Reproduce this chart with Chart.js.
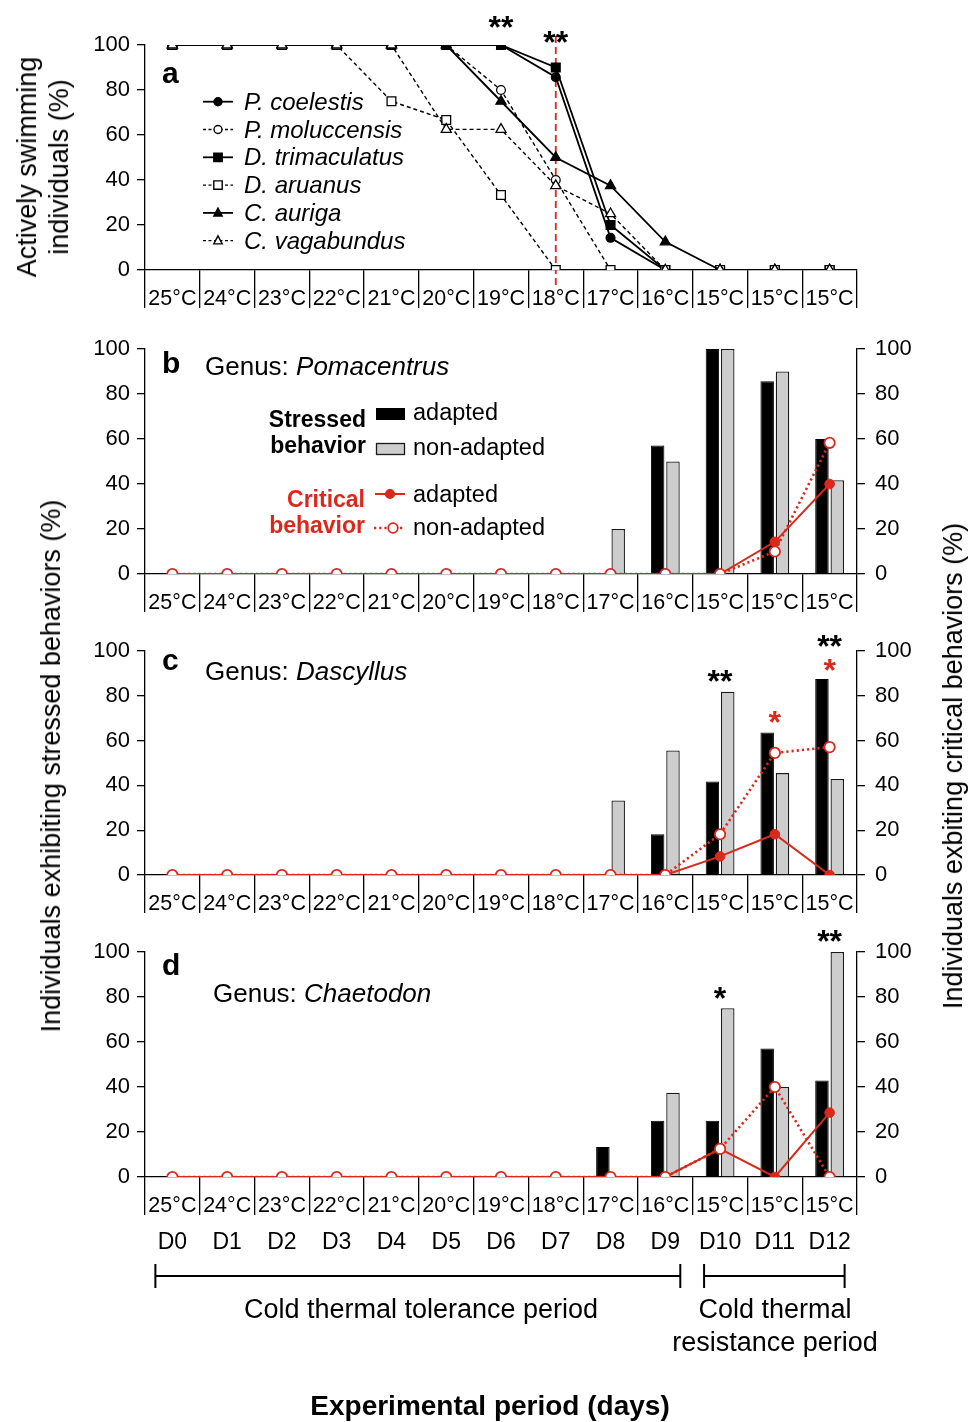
<!DOCTYPE html>
<html>
<head>
<meta charset="utf-8">
<script src="https://cdn.jsdelivr.net/npm/chart.js@4.4.1/dist/chart.umd.min.js"></script>
<style>
  body { margin: 0; background: #fff; }
  #page { position: relative; width: 979px; height: 1422px; overflow: hidden; background: #fff; }
  canvas { position: absolute; left: 0; }
  .vtitle {
    position: absolute; white-space: nowrap; text-align: center; color: #000;
    font-family: "Liberation Sans", Arial, sans-serif; font-size: 27px; line-height: 32px;
    transform: translate(-50%, -50%) rotate(-90deg);
  }
</style>
</head>
<body>
<div id="page">
  <canvas id="chartA" width="979" height="320" style="top:0px"></canvas>
  <canvas id="chartB" width="979" height="304" style="top:320px"></canvas>
  <canvas id="chartC" width="979" height="301" style="top:624px"></canvas>
  <canvas id="chartD" width="979" height="497" style="top:925px"></canvas>
  <div class="vtitle" style="left:43px; top:167px">Actively swimming<br>individuals (%)</div>
  <div class="vtitle" style="left:51px; top:766px">Individuals exhibiting stressed behaviors (%)</div>
  <div class="vtitle" style="left:953px; top:766px">Individuals exbiting critical behaviors (%)</div>
</div>
<script>
// ---- data ----
const temps = ['25°C', '24°C', '23°C', '22°C', '21°C', '20°C', '19°C', '18°C', '17°C', '16°C', '15°C', '15°C', '15°C'];
const days = ['D0', 'D1', 'D2', 'D3', 'D4', 'D5', 'D6', 'D7', 'D8', 'D9', 'D10', 'D11', 'D12'];

// panel a: actively swimming individuals (%)
const pCoelestis    = [100, 100, 100, 100, 100, 100, 100, 85.7, 14.3, 0, 0, 0, 0];
const pMoluccensis  = [100, 100, 100, 100, 100, 100, 80, 40, 0, 0, 0, 0, 0];
const dTrimaculatus = [100, 100, 100, 100, 100, 100, 100, 90, 20, 0, 0, 0, 0];
const dAruanus      = [100, 100, 100, 100, 75, 66.7, 33.3, 0, 0, 0, 0, 0, 0];
const cAuriga       = [100, 100, 100, 100, 100, 100, 75, 50, 37.5, 12.5, 0, 0, 0];
const cVagabundus   = [100, 100, 100, 100, 100, 62.5, 62.5, 37.5, 25, 0, 0, 0, 0];

// panel b: Pomacentrus
const pomaStressAdapted = [0, 0, 0, 0, 0, 0, 0, 0, 0, 57.1, 100, 85.7, 60];
const pomaStressNon     = [0, 0, 0, 0, 0, 0, 0, 0, 20, 50, 100, 90, 41.7];
const pomaCritAdapted   = [0, 0, 0, 0, 0, 0, 0, 0, 0, 0, 0, 14.3, 40];
const pomaCritNon       = [0, 0, 0, 0, 0, 0, 0, 0, 0, 0, 0, 10, 58.3];

// panel c: Dascyllus
const dascStressAdapted = [0, 0, 0, 0, 0, 0, 0, 0, 0, 18.2, 41.7, 63.6, 87.5];
const dascStressNon     = [0, 0, 0, 0, 0, 0, 0, 0, 33.3, 55.6, 81.8, 45.5, 42.9];
const dascCritAdapted   = [0, 0, 0, 0, 0, 0, 0, 0, 0, 0, 8.3, 18.2, 0];
const dascCritNon       = [0, 0, 0, 0, 0, 0, 0, 0, 0, 0, 18.2, 54.5, 57.1];

// panel d: Chaetodon
const chaeStressAdapted = [0, 0, 0, 0, 0, 0, 0, 0, 13.3, 25, 25, 57.1, 42.9];
const chaeStressNon     = [0, 0, 0, 0, 0, 0, 0, 0, 0, 37.5, 75, 40, 100];
const chaeCritAdapted   = [0, 0, 0, 0, 0, 0, 0, 0, 0, 0, 12.5, 0, 28.6];
const chaeCritNon       = [0, 0, 0, 0, 0, 0, 0, 0, 0, 0, 12.5, 40, 0];

// significance marks: [category index, y value where the mark sits, text, colour]
const starsA = [[6, 111, '**', '#000'], [7, 104.5, '**', '#000']];
const starsC = [[10, 89.9, '**', '#000'], [11, 71.4, '*', '#d9291c'], [12, 105.4, '**', '#000'], [12, 94.6, '*', '#d9291c']];
const starsD = [[10, 82.7, '*', '#000'], [12, 108, '**', '#000']];

// ---- styling ----
const FONT = '"Liberation Sans", Arial, Helvetica, sans-serif';
const RED = '#d9291c';
const GREY = '#cdcdcd';
Chart.defaults.font.family = FONT;
Chart.defaults.color = '#000';
Chart.defaults.animation = false;

function yAxis(pos) {
  return {
    position: pos, min: 0, max: 100,
    ticks: { stepSize: 20, font: { size: 22 }, padding: pos === 'left' ? 7 : 10, color: '#000' },
    grid: { drawOnChartArea: false, tickLength: 8, color: '#000', lineWidth: 1.3 },
    border: { color: '#000', width: 1.3 },
    afterFit: s => { s.width = pos === 'left' ? 145 : 122; }
  };
}

function xAxis() {
  return {
    type: 'category', offset: true,
    ticks: { autoSkip: false, maxRotation: 0, minRotation: 0, font: { size: 21.5 }, padding: -22, color: '#000' },
    grid: { offset: true, drawOnChartArea: false, tickLength: 38, color: '#000', lineWidth: 1.3 },
    border: { color: '#000', width: 1.3 },
    afterFit: s => { s.height = 50; }
  };
}

function marker(ctx, style, x, y, r, filled, color) {
  ctx.save();
  ctx.beginPath();
  if (style === 'circle') ctx.arc(x, y, r, 0, Math.PI * 2);
  else if (style === 'rect') ctx.rect(x - r, y - r, 2 * r, 2 * r);
  else { ctx.moveTo(x, y - r * 1.15); ctx.lineTo(x + r, y + r * 0.75); ctx.lineTo(x - r, y + r * 0.75); ctx.closePath(); }
  ctx.fillStyle = filled ? color : '#fff';
  ctx.fill();
  ctx.lineWidth = 1.4;
  ctx.strokeStyle = color;
  ctx.stroke();
  ctx.restore();
}

function drawStars(chart, stars, scaleId) {
  const ctx = chart.ctx, xs = chart.scales.x, ys = chart.scales[scaleId];
  ctx.save();
  ctx.font = 'bold 32px ' + FONT;
  ctx.textAlign = 'center';
  ctx.textBaseline = 'alphabetic';
  stars.forEach(([i, v, t, c]) => {
    ctx.fillStyle = c;
    ctx.fillText(t, xs.getPixelForValue(i), ys.getPixelForValue(v) + 18);
  });
  ctx.restore();
}

function genusTitle(ctx, letter, lx, ly, genus, gx, gy) {
  ctx.save();
  ctx.fillStyle = '#000';
  ctx.textBaseline = 'alphabetic';
  ctx.textAlign = 'left';
  ctx.font = 'bold 30px ' + FONT;
  ctx.fillText(letter, lx, ly);
  ctx.font = '26px ' + FONT;
  ctx.fillText('Genus: ', gx, gy);
  const w = ctx.measureText('Genus: ').width;
  ctx.font = 'italic 26px ' + FONT;
  ctx.fillText(genus, gx + w, gy);
  ctx.restore();
}

// ---- panel a ----
const speciesSets = [
  { label: 'P. coelestis', data: pCoelestis, style: 'circle', filled: true },
  { label: 'P. moluccensis', data: pMoluccensis, style: 'circle', filled: false },
  { label: 'D. trimaculatus', data: dTrimaculatus, style: 'rect', filled: true },
  { label: 'D. aruanus', data: dAruanus, style: 'rect', filled: false },
  { label: 'C. auriga', data: cAuriga, style: 'triangle', filled: true },
  { label: 'C. vagabundus', data: cVagabundus, style: 'triangle', filled: false }
];

const decorA = {
  id: 'decorA',
  beforeDatasetsDraw(chart) {
    const ctx = chart.ctx, x = chart.scales.x.getPixelForValue(7), ys = chart.scales.y;
    ctx.save();
    ctx.strokeStyle = RED;
    ctx.lineWidth = 1.8;
    ctx.setLineDash([7, 4]);
    ctx.beginPath();
    ctx.moveTo(x, ys.getPixelForValue(104));
    ctx.lineTo(x, ys.getPixelForValue(-7));
    ctx.stroke();
    ctx.restore();
  },
  afterDraw(chart) {
    const ctx = chart.ctx;
    ctx.save();
    ctx.fillStyle = '#000';
    ctx.font = 'bold 30px ' + FONT;
    ctx.fillText('a', 162, 83);
    speciesSets.forEach((s, k) => {
      const cy = 101.7 + k * 27.8;
      ctx.strokeStyle = '#000';
      ctx.lineWidth = s.filled ? 1.8 : 1.3;
      ctx.setLineDash(s.filled ? [] : [3, 2.5]);
      ctx.beginPath(); ctx.moveTo(203, cy); ctx.lineTo(233, cy); ctx.stroke();
      ctx.setLineDash([]);
      marker(ctx, s.style, 218, cy, s.style === 'circle' ? 4 : 4.2, s.filled, '#000');
      ctx.fillStyle = '#000';
      ctx.font = 'italic 24px ' + FONT;
      ctx.textBaseline = 'alphabetic';
      ctx.fillText(s.label, 244, cy + 8);
    });
    ctx.restore();
    drawStars(chart, starsA, 'y');
  }
};

new Chart(document.getElementById('chartA'), {
  type: 'line',
  data: {
    labels: temps,
    datasets: speciesSets.map((s, i) => ({
      label: s.label,
      data: s.data,
      order: 5 - i,
      borderColor: '#000',
      borderWidth: s.filled ? 1.8 : 1.4,
      borderDash: s.filled ? [] : [4, 3],
      pointStyle: s.style,
      pointRadius: s.style === 'circle' ? 4.4 : (s.style === 'rect' ? 6.2 : 5.8),
      pointBorderWidth: 1.3,
      pointBorderColor: '#000',
      pointBackgroundColor: s.filled ? '#000' : '#fff',
      tension: 0
    }))
  },
  options: {
    responsive: false,
    layout: { padding: { top: 45, right: 122, bottom: 0, left: 0 } },
    plugins: { legend: { display: false }, tooltip: { enabled: false } },
    scales: { x: xAxis(), y: yAxis('left') }
  },
  plugins: [decorA]
});

// ---- panels b-d ----
function behaviorChart(id, padTop, padBottom, stressAd, stressNon, critAd, critNon, decor) {
  return new Chart(document.getElementById(id), {
    type: 'bar',
    data: {
      labels: temps,
      datasets: [
        { type: 'line', label: 'critical non-adapted', data: critNon, yAxisID: 'y2', order: 0,
          borderColor: RED, borderWidth: 2.6, borderDash: [2.2, 3], tension: 0,
          pointRadius: 5.2, pointBorderWidth: 1.8, pointBorderColor: RED, pointBackgroundColor: '#fff' },
        { type: 'line', label: 'critical adapted', data: critAd, yAxisID: 'y2', order: 1,
          borderColor: RED, borderWidth: 2, tension: 0,
          pointRadius: 4.8, pointBorderWidth: 1, pointBorderColor: RED, pointBackgroundColor: RED },
        { label: 'stressed adapted', data: stressAd, yAxisID: 'y', order: 2,
          backgroundColor: '#000', borderColor: '#000', borderWidth: 1,
          categoryPercentage: 0.56, barPercentage: 0.88 },
        { label: 'stressed non-adapted', data: stressNon, yAxisID: 'y', order: 3,
          backgroundColor: GREY, borderColor: '#1a1a1a', borderWidth: 1.3,
          categoryPercentage: 0.56, barPercentage: 0.88 }
      ]
    },
    options: {
      responsive: false,
      layout: { padding: { top: padTop, right: 0, bottom: padBottom, left: 0 } },
      plugins: { legend: { display: false }, tooltip: { enabled: false } },
      scales: { x: xAxis(), y: yAxis('left'), y2: yAxis('right') }
    },
    plugins: [decor]
  });
}

// legend of panel b (canvas top at 320 px on the page)
const decorB = {
  id: 'decorB',
  afterDraw(chart) {
    const ctx = chart.ctx, o = 320;
    genusTitle(ctx, 'b', 162, 373 - o, 'Pomacentrus', 205, 375 - o);
    ctx.save();
    ctx.textBaseline = 'alphabetic';
    ctx.font = 'bold 23px ' + FONT;
    ctx.textAlign = 'right';
    ctx.fillStyle = '#000';
    ctx.fillText('Stressed', 366, 427 - o);
    ctx.fillText('behavior', 366, 453 - o);
    ctx.fillStyle = RED;
    ctx.fillText('Critical', 365, 507 - o);
    ctx.fillText('behavior', 365, 533 - o);
    ctx.textAlign = 'left';
    ctx.font = '23.5px ' + FONT;
    ctx.fillStyle = '#000';
    ctx.fillText('adapted', 413, 420 - o);
    ctx.fillText('non-adapted', 413, 455 - o);
    ctx.fillText('adapted', 413, 502 - o);
    ctx.fillText('non-adapted', 413, 535 - o);
    // bar swatches
    ctx.fillStyle = '#000';
    ctx.fillRect(376, 408 - o, 29, 12);
    ctx.fillStyle = GREY;
    ctx.fillRect(376.5, 443.5 - o, 28, 11);
    ctx.strokeStyle = '#1a1a1a'; ctx.lineWidth = 1.3;
    ctx.strokeRect(376.5, 443.5 - o, 28, 11);
    // line swatches
    ctx.strokeStyle = RED; ctx.lineWidth = 2;
    ctx.beginPath(); ctx.moveTo(375, 494 - o); ctx.lineTo(405, 494 - o); ctx.stroke();
    marker(ctx, 'circle', 390, 494 - o, 4.4, true, RED);
    ctx.lineWidth = 2.6; ctx.setLineDash([2.2, 3]);
    ctx.beginPath(); ctx.moveTo(374, 528 - o); ctx.lineTo(404, 528 - o); ctx.stroke();
    ctx.setLineDash([]);
    ctx.lineWidth = 1.8;
    ctx.beginPath(); ctx.arc(393, 528 - o, 4.8, 0, Math.PI * 2);
    ctx.fillStyle = '#fff'; ctx.fill(); ctx.stroke();
    ctx.restore();
  }
};

const decorC = {
  id: 'decorC',
  afterDraw(chart) {
    const o = 624;
    genusTitle(chart.ctx, 'c', 162, 670 - o, 'Dascyllus', 205, 680 - o);
    drawStars(chart, starsC, 'y');
  }
};

const decorD = {
  id: 'decorD',
  afterDraw(chart) {
    const ctx = chart.ctx, o = 925, xs = chart.scales.x;
    genusTitle(ctx, 'd', 162, 975 - o, 'Chaetodon', 213, 1002 - o);
    drawStars(chart, starsD, 'y');
    ctx.save();
    ctx.fillStyle = '#000';
    ctx.textAlign = 'center';
    ctx.textBaseline = 'alphabetic';
    ctx.font = '23px ' + FONT;
    days.forEach((d, i) => ctx.fillText(d, xs.getPixelForValue(i), 1249 - o));
    // period brackets
    const bracket = (x1, x2) => {
      const y = 1276 - o;
      ctx.strokeStyle = '#000'; ctx.lineWidth = 2;
      ctx.beginPath();
      ctx.moveTo(x1, y); ctx.lineTo(x2, y);
      ctx.moveTo(x1, y - 12); ctx.lineTo(x1, y + 12);
      ctx.moveTo(x2, y - 12); ctx.lineTo(x2, y + 12);
      ctx.stroke();
    };
    bracket(xs.getPixelForValue(0) - 17, xs.getPixelForValue(9) + 15);
    bracket(xs.getPixelForValue(10) - 16, xs.getPixelForValue(12) + 15);
    ctx.font = '27px ' + FONT;
    ctx.fillText('Cold thermal tolerance period', 421, 1318 - o);
    ctx.fillText('Cold thermal', 775, 1318 - o);
    ctx.fillText('resistance period', 775, 1351 - o);
    ctx.font = 'bold 28px ' + FONT;
    ctx.fillText('Experimental period (days)', 490, 1415 - o);
    ctx.restore();
  }
};

behaviorChart('chartB', 29, 0, pomaStressAdapted, pomaStressNon, pomaCritAdapted, pomaCritNon, decorB);
behaviorChart('chartC', 27, 0, dascStressAdapted, dascStressNon, dascCritAdapted, dascCritNon, decorC);
behaviorChart('chartD', 27, 195, chaeStressAdapted, chaeStressNon, chaeCritAdapted, chaeCritNon, decorD);
</script>
</body>
</html>
